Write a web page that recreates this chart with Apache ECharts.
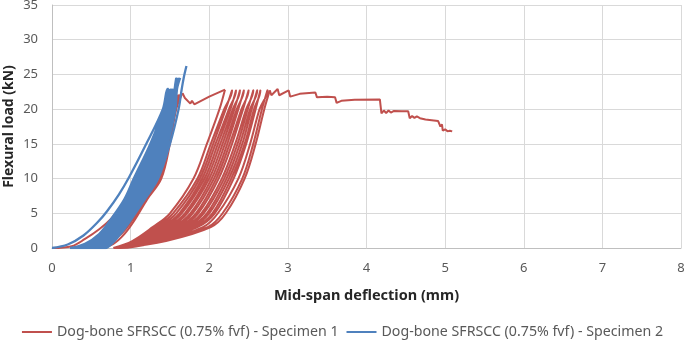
<!DOCTYPE html>
<html>
<head>
<meta charset="utf-8">
<script src="https://cdn.jsdelivr.net/npm/echarts@6/dist/echarts.min.js"></script>
<style>
  html, body { margin: 0; padding: 0; background: #fff; }
  #chart { width: 685px; height: 345px; }
</style>
</head>
<body>
<div id="chart"></div>
<script>
// Specimen 1 (red): initial loading + first group of cycles
const redStart = [
    [0, 0], [0.25, 0.25], [0.42, 1.3], [0.6, 2.7], [0.75, 4.2], [0.9, 6.2], [1.05, 8.8], [1.2, 11.8],
    [1.33, 15], [1.45, 18.5], [1.55, 21.5], [1.6, 22.0],
    [1.53, 20], [1.43, 16], [1.3, 12], [1.12, 8], [0.95, 5], [0.78, 2.5], [0.62, 1], [0.48, 0],
    [0.63, 0.6], [0.84, 2], [0.98, 4], [1.15, 7], [1.33, 10], [1.46, 15], [1.55, 20], [1.62, 22.1],
    [1.55, 20], [1.45, 16], [1.32, 12], [1.15, 8], [0.98, 5], [0.82, 2.5], [0.66, 1], [0.55, 0],
    [0.7, 0.6], [0.88, 2], [1.02, 4], [1.19, 7], [1.37, 10], [1.48, 15], [1.57, 20], [1.64, 22.2],
    [1.57, 20], [1.47, 16], [1.35, 12], [1.18, 8], [1.01, 5], [0.86, 2.5], [0.72, 1], [0.62, 0],
    [0.78, 0.6], [0.92, 2], [1.05, 4], [1.21, 7], [1.39, 10], [1.5, 15], [1.58, 20], [1.66, 22.3]
];
// zig-zag after the first peak, up to the envelope
const redJump = [
    [1.66, 22.3], [1.69, 21.6], [1.71, 21.8], [1.76, 20.8], [1.78, 21.2], [1.81, 20.7], [2.0, 21.8], [2.2, 22.8]
];

// second group of cycles: x at each load level (bottom -> top)
const redLevels = [0, 1, 3, 5, 10, 15, 20, 22.8];
const redUnloadX = [
    [0.78, 1.02, 1.28, 1.50, 1.80, 1.97, 2.13, 2.20],
    [0.79, 1.06, 1.36, 1.58, 1.88, 2.05, 2.21, 2.29],
    [0.80, 1.10, 1.43, 1.65, 1.94, 2.11, 2.27, 2.34],
    [0.81, 1.14, 1.50, 1.72, 2.00, 2.17, 2.32, 2.39],
    [0.82, 1.18, 1.57, 1.79, 2.06, 2.23, 2.37, 2.44],
    [0.83, 1.22, 1.64, 1.86, 2.12, 2.29, 2.43, 2.50],
    [0.84, 1.26, 1.71, 1.93, 2.19, 2.36, 2.49, 2.56],
    [0.85, 1.30, 1.78, 2.00, 2.25, 2.42, 2.54, 2.61],
    [0.86, 1.34, 1.85, 2.07, 2.31, 2.47, 2.59, 2.65],
    [0.88, 1.42, 1.98, 2.17, 2.42, 2.56, 2.67, 2.74]
];
const redReloadX = [
    [0.78, 1.04, 1.32, 1.54, 1.85, 2.02, 2.19, 2.29],
    [0.79, 1.08, 1.40, 1.62, 1.91, 2.08, 2.25, 2.34],
    [0.80, 1.12, 1.47, 1.69, 1.97, 2.14, 2.30, 2.39],
    [0.81, 1.16, 1.54, 1.76, 2.03, 2.20, 2.35, 2.44],
    [0.82, 1.20, 1.61, 1.83, 2.09, 2.26, 2.41, 2.50],
    [0.83, 1.24, 1.68, 1.90, 2.16, 2.33, 2.47, 2.56],
    [0.84, 1.28, 1.75, 1.97, 2.22, 2.39, 2.52, 2.61],
    [0.85, 1.32, 1.82, 2.04, 2.28, 2.45, 2.57, 2.65],
    [0.87, 1.38, 1.92, 2.11, 2.37, 2.52, 2.64, 2.74],
    [0.88, 1.45, 2.02, 2.21, 2.45, 2.59, 2.70, 2.77]
];

// post-peak softening branch
const redTail = [
    [2.77, 22.7], [2.79, 22.0], [2.87, 22.9], [2.89, 22.0], [3.01, 22.7], [3.03, 21.8], [3.15, 22.2], [3.35, 22.4],
    [3.37, 21.7], [3.5, 21.8], [3.6, 21.7], [3.62, 20.9], [3.68, 21.2], [3.85, 21.35], [4.17, 21.4],
    [4.19, 19.4], [4.22, 19.8], [4.25, 19.45], [4.28, 19.8], [4.31, 19.5], [4.35, 19.75], [4.45, 19.7],
    [4.53, 19.7], [4.55, 18.7], [4.58, 19.0], [4.61, 18.75], [4.64, 18.95], [4.68, 18.7], [4.75, 18.5],
    [4.91, 18.3], [4.94, 17.5], [4.96, 17.8], [4.97, 16.9], [5.0, 17.1], [5.03, 16.8], [5.06, 16.9], [5.09, 16.8]
];

// Specimen 2 (blue): first loading, then repeated cycles
const blueInit = [
    [0, 0], [0.2, 0.5], [0.4, 1.8], [0.58, 3.7], [0.7, 5.3], [0.85, 7.7], [0.98, 10.2],
    [1.19, 14.8], [1.41, 20], [1.47, 22.9]
];
const blueLevels = [0, 0.6, 2, 4, 7, 10, 15, 20, 22.9, 24.5, 26.2];
const blueCycleX = [
    [0.23, 0.42, 0.60, 0.74, 0.92, 1.04, 1.25, 1.42, 1.48],
    [0.25, 0.43, 0.61, 0.75, 0.93, 1.05, 1.26, 1.42, 1.48],
    [0.26, 0.44, 0.62, 0.76, 0.94, 1.06, 1.27, 1.43, 1.49],
    [0.28, 0.45, 0.63, 0.77, 0.95, 1.07, 1.27, 1.43, 1.49],
    [0.29, 0.46, 0.64, 0.78, 0.96, 1.08, 1.28, 1.44, 1.50],
    [0.31, 0.47, 0.65, 0.79, 0.97, 1.09, 1.29, 1.44, 1.50],
    [0.32, 0.48, 0.66, 0.80, 0.98, 1.10, 1.30, 1.45, 1.51],
    [0.34, 0.49, 0.67, 0.81, 0.99, 1.11, 1.30, 1.45, 1.51],
    [0.35, 0.50, 0.68, 0.82, 1.00, 1.12, 1.31, 1.46, 1.52],
    [0.37, 0.51, 0.69, 0.83, 1.01, 1.14, 1.32, 1.46, 1.52],
    [0.38, 0.52, 0.70, 0.84, 1.02, 1.15, 1.33, 1.47, 1.52],
    [0.40, 0.54, 0.71, 0.85, 1.03, 1.16, 1.34, 1.47, 1.53],
    [0.41, 0.55, 0.72, 0.86, 1.04, 1.17, 1.35, 1.48, 1.53],
    [0.43, 0.56, 0.73, 0.87, 1.05, 1.18, 1.35, 1.48, 1.53],
    [0.44, 0.57, 0.74, 0.88, 1.06, 1.19, 1.36, 1.49, 1.54],
    [0.46, 0.59, 0.75, 0.88, 1.07, 1.20, 1.37, 1.49, 1.54],
    [0.47, 0.60, 0.76, 0.89, 1.08, 1.21, 1.38, 1.50, 1.54],
    [0.49, 0.61, 0.77, 0.90, 1.08, 1.22, 1.38, 1.50, 1.55],
    [0.50, 0.62, 0.78, 0.91, 1.09, 1.23, 1.39, 1.51, 1.55],
    [0.52, 0.64, 0.78, 0.92, 1.10, 1.24, 1.40, 1.51, 1.55],
    [0.53, 0.65, 0.79, 0.93, 1.11, 1.25, 1.41, 1.52, 1.55],
    [0.55, 0.66, 0.80, 0.93, 1.11, 1.26, 1.41, 1.52, 1.56],
    [0.56, 0.67, 0.81, 0.94, 1.12, 1.27, 1.42, 1.53, 1.56],
    [0.58, 0.69, 0.82, 0.95, 1.13, 1.28, 1.43, 1.53, 1.56],
    [0.59, 0.70, 0.83, 0.96, 1.14, 1.29, 1.44, 1.54, 1.56, 1.58],
    [0.61, 0.71, 0.83, 0.96, 1.14, 1.30, 1.44, 1.54, 1.56, 1.59],
    [0.62, 0.72, 0.84, 0.97, 1.15, 1.31, 1.45, 1.55, 1.57, 1.60],
    [0.64, 0.73, 0.85, 0.98, 1.16, 1.32, 1.46, 1.56, 1.58, 1.62],
    [0.65, 0.74, 0.86, 0.99, 1.17, 1.33, 1.47, 1.57, 1.59, 1.63],
    [0.68, 0.76, 0.87, 1.00, 1.18, 1.35, 1.50, 1.61, 1.65, 1.675, 1.71]
];

const xTicks = [0, 1, 2, 3, 4, 5, 6, 7, 8];
const yTicks = [0, 5, 10, 15, 20, 25, 30, 35];
const names = ['Dog-bone SFRSCC (0.75% fvf) - Specimen 1', 'Dog-bone SFRSCC (0.75% fvf) - Specimen 2'];

function toPoints(xs, levels) {
    return xs.map((x, k) => [x, levels[k]]);
}

// assemble the test paths in loading order
let redLoops = [];
for (let i = 0; i < redUnloadX.length; i++) {
    redLoops = redLoops.concat(toPoints(redUnloadX[i], redLevels).reverse());
    const up = toPoints(redReloadX[i], redLevels);
    up[up.length - 1][1] = 22.7;
    redLoops = redLoops.concat(up);
}

let blueData = blueInit.slice();
blueCycleX.forEach((xs, j) => {
    const pts = toPoints(xs, blueLevels);
    if (j > 0) blueData = blueData.concat(pts);
    if (j < blueCycleX.length - 1) blueData = blueData.concat(pts.slice().reverse());
});

const RED = '#c0504d';
const BLUE = '#4f81bd';
const FONT = 'Noto Sans';

function pathSeries(name, color, data, smooth, width) {
    return {
        name: name,
        type: 'line',
        data: data,
        symbol: 'none',
        showSymbol: false,
        smooth: smooth,
        lineStyle: { color: color, width: width || 2 },
        itemStyle: { color: color }
    };
}

const chart = echarts.init(document.getElementById('chart'));
chart.setOption({
    animation: false,
    textStyle: { fontFamily: FONT },
    grid: { left: 52, right: 4, top: 5, bottom: 97, outerBoundsMode: 'none' },
    legend: {
        bottom: 1,
        left: 'center',
        icon: 'rect',
        itemWidth: 30,
        itemHeight: 2,
        itemGap: 8,
        textStyle: { fontFamily: FONT, fontSize: 14.2, color: '#595959' },
        data: names
    },
    xAxis: {
        type: 'value',
        min: xTicks[0],
        max: xTicks[xTicks.length - 1],
        interval: 1,
        name: 'Mid-span deflection (mm)',
        nameLocation: 'middle',
        nameGap: 40,
        nameMoveOverlap: false,
        nameTextStyle: { fontFamily: FONT, fontSize: 14.5, fontWeight: 'bold', color: '#262626' },
        axisLine: { lineStyle: { color: '#bfbfbf', width: 1 } },
        axisTick: { show: false },
        axisLabel: { margin: 14, fontSize: 13, color: '#595959', fontFamily: FONT },
        splitLine: { lineStyle: { color: '#d9d9d9', width: 1 } }
    },
    yAxis: {
        type: 'value',
        min: yTicks[0],
        max: yTicks[yTicks.length - 1],
        interval: 5,
        name: 'Flexural load (kN)',
        nameLocation: 'middle',
        nameGap: 36,
        nameMoveOverlap: false,
        nameTextStyle: { fontFamily: FONT, fontSize: 14, fontWeight: 'bold', color: '#262626' },
        axisLine: { show: true, lineStyle: { color: '#bfbfbf', width: 1 } },
        axisTick: { show: false },
        axisLabel: { margin: 14, fontSize: 13, color: '#595959', fontFamily: FONT },
        splitLine: { lineStyle: { color: '#d9d9d9', width: 1 } }
    },
    series: [
        pathSeries(names[0], RED, redStart, 0.35),
        pathSeries(names[0], RED, redJump, false),
        pathSeries(names[0], RED, [redJump[redJump.length - 1]].concat(redLoops), 0.35),
        pathSeries(names[0], RED, redTail, false),
        pathSeries(names[1], BLUE, blueData, 0.35, 2.3)
    ]
});

window.addEventListener('resize', () => {
    chart.resize();
});
</script>
</body>
</html>
